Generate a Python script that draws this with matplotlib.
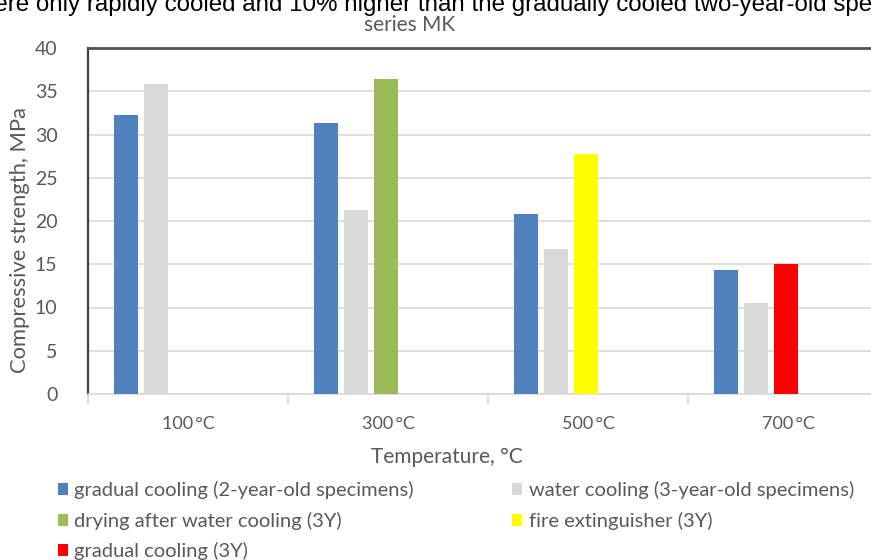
import matplotlib
matplotlib.use("Agg")
import matplotlib.pyplot as plt
import numpy as np
from matplotlib.patches import Patch

categories = ["100\u2009°C", "300\u2009°C", "500\u2009°C", "700\u2009°C"]
gradual_2y = [32.2, 31.3, 20.8, 14.3]
water_3y = [35.8, 21.3, 16.8, 10.5]
drying_3y = [np.nan, 36.4, np.nan, np.nan]
extinguisher_3y = [np.nan, np.nan, 27.7, np.nan]
gradual_3y = [np.nan, np.nan, np.nan, 15.0]
yticks = [0, 5, 10, 15, 20, 25, 30, 35, 40]

labels = ["gradual cooling (2-year-old specimens)", "water cooling (3-year-old specimens)",
          "drying after water cooling (3Y)", "fire extinguisher (3Y)", "gradual cooling (3Y)"]
colors = ["#4F81BD", "#D9D9D9", "#9BBB59", "#FFFF00", "#FF0000"]

W, H = 871, 560
fig = plt.figure(figsize=(W / 100, H / 100), dpi=100)
ax = fig.add_axes([88 / W, (H - 394) / H, (W - 88) / W, (394 - 48) / H])

x = np.arange(len(categories))
slot = 0.15
bw = 0.122
series = [gradual_2y, water_3y, drying_3y, extinguisher_3y, gradual_3y]
slots = [0, 1, 2, 2, 2]
for vals, s, c in zip(series, slots, colors):
    ax.bar(x + (s - 2) * slot - 0.01, vals, width=bw, color=c, edgecolor="none", zorder=3)

ax.set_yticks(yticks)
ax.set_yticklabels([str(v) for v in yticks])
ax.yaxis.grid(True, color="#D9D9D9", linewidth=1.2, zorder=0)
ax.set_axisbelow(True)

ax.set_xticks(x)
ax.set_xticklabels(categories)
ax.set_xticks(np.arange(-0.5, 3.0, 1), minor=True)
ax.set_xlim(-0.5, -0.5 + (W - 88) / 200)
ax.set_ylim(0, 40)
ax.tick_params(axis="x", which="major", length=0, pad=16, labelsize=13, labelcolor="#595959")
ax.tick_params(axis="x", which="minor", length=7, color="#D9D9D9", width=1.2)
ax.tick_params(axis="y", length=0, pad=22, labelsize=14, labelcolor="#595959")
for lab in ax.get_xticklabels() + ax.get_yticklabels():
    lab.set_family("Lato")

ax.spines["left"].set_color("#404040")
ax.spines["left"].set_linewidth(1.6)
ax.spines["top"].set_color("#505050")
ax.spines["top"].set_linewidth(2.0)
ax.spines["right"].set_visible(False)
ax.spines["bottom"].set_color("#D9D9D9")
ax.spines["bottom"].set_linewidth(1.2)

fig.text(20 / W, 1 - 240 / H, "Compressive strength, MPa", rotation=90, ha="center", va="center",
         fontsize=15.8, color="#595959", family="Lato")
fig.text(447 / W, 1 - 457 / H, "Temperature, °C", ha="center", va="center", fontsize=15,
         color="#595959", family="Lato")

fig.text(410 / W, 1 - 25 / H, "series MK", ha="center", va="center", fontsize=15,
         color="#595959", family="Lato")
fig.text(-23 / W, 1 - 11 / H,
         "were only rapidly cooled and 10% higher than the gradually cooled two-year-old specimens",
         ha="left", va="baseline", fontsize=17.4, color="black", family="Liberation Sans")

order = [0, 2, 4, 1, 3]
handles = [Patch(facecolor=colors[i], edgecolor="none") for i in order]
leg = fig.legend(handles, [labels[i] for i in order], ncol=2, loc="upper left",
                 bbox_to_anchor=(40 / W, 1 - 463 / H),
                 frameon=False, prop={"family": "Lato", "size": 14.5}, handlelength=0.5,
                 handleheight=0.55, handletextpad=0.3, columnspacing=4.9, labelspacing=0.62)
for t in leg.get_texts():
    t.set_color("#595959")

fig.savefig("out.png", dpi=100)
